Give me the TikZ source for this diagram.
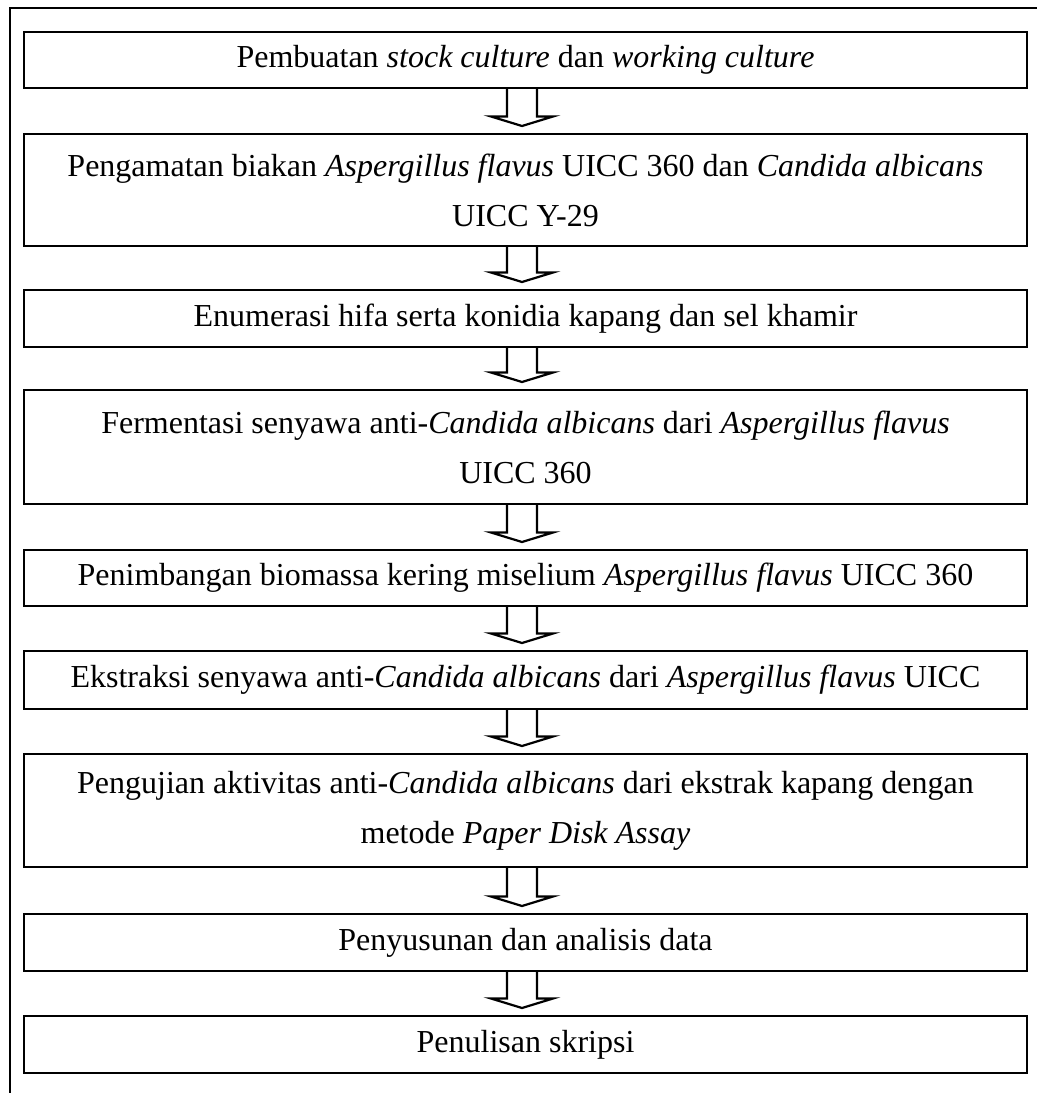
\documentclass[tikz,border=0pt]{standalone}
\usepackage{fontspec}
\setmainfont{Liberation Serif}
\usetikzlibrary{calc}
\tikzset{
  stage/.style={draw=black, line width=2pt, minimum width=1003pt, inner sep=0pt,
    align=center, anchor=north, font=\fontsize{32}{50}\selectfont},
  flow/.style={draw=black, line width=2.2pt, line join=miter},
  frame/.style={draw=black, line width=2pt},
}
% hollow block arrow from the bottom of one stage to just above the next
\newcommand\stagearrow[2]{%
  \draw[flow] let \p1=(#1.south), \p2=(#2.north) in
    (\x1-18.5pt,\y1) -- (\x1-18.5pt,\y2+16.5pt) -- (\x1-34.5pt,\y2+16.5pt)
    -- (\x1-3.5pt,\y2+7pt) -- (\x1+27.5pt,\y2+16.5pt) -- (\x1+11.5pt,\y2+16.5pt)
    -- (\x1+11.5pt,\y1);}
\begin{document}
\begin{tikzpicture}[x=1pt,y=-1pt]
  \useasboundingbox (0,0) rectangle (1037,1093);
  % open frame: top and left sides only
  \coordinate (fb) at (10,1093);
  \coordinate (fc) at (10,8);
  \coordinate (fr) at (1037,8);
  \draw[frame] (fb) -- (fc) -- (fr);

  \node[stage, minimum height=56pt] (b1) at (525.5,31)
    {Pembuatan \textit{stock culture} dan \textit{working culture}};
  \node[stage, minimum height=112pt] (b2) at (525.5,133)
    {Pengamatan biakan \textit{Aspergillus flavus} UICC 360 dan \textit{Candida albicans}\\UICC Y-29};
  \node[stage, minimum height=57pt] (b3) at (525.5,289)
    {Enumerasi hifa serta konidia kapang dan sel khamir};
  \node[stage, minimum height=114pt] (b4) at (525.5,389)
    {Fermentasi senyawa anti-\textit{Candida albicans} dari \textit{Aspergillus flavus}\\UICC 360};
  \node[stage, minimum height=56pt] (b5) at (525.5,549)
    {Penimbangan biomassa kering miselium \textit{Aspergillus flavus} UICC 360};
  \node[stage, minimum height=58pt] (b6) at (525.5,650)
    {Ekstraksi senyawa anti-\textit{Candida albicans} dari \textit{Aspergillus flavus} UICC};
  \node[stage, minimum height=113pt] (b7) at (525.5,753)
    {Pengujian aktivitas anti-\textit{Candida albicans} dari ekstrak kapang dengan\\metode \textit{Paper Disk Assay}};
  \node[stage, minimum height=57pt] (b8) at (525.5,913)
    {Penyusunan dan analisis data};
  \node[stage, minimum height=57pt] (b9) at (525.5,1015)
    {Penulisan skripsi};

  \stagearrow{b1}{b2}
  \stagearrow{b2}{b3}
  \stagearrow{b3}{b4}
  \stagearrow{b4}{b5}
  \stagearrow{b5}{b6}
  \stagearrow{b6}{b7}
  \stagearrow{b7}{b8}
  \stagearrow{b8}{b9}
\end{tikzpicture}
\end{document}
